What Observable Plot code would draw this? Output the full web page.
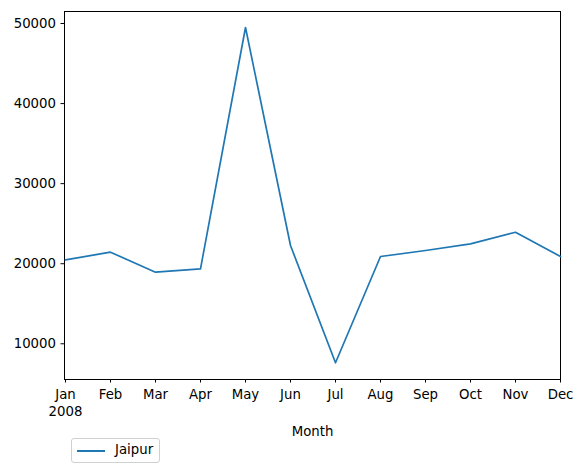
<!DOCTYPE html>
<html>
<head>
<meta charset="utf-8">
<script src="https://cdn.jsdelivr.net/npm/d3@7"></script>
<script src="https://cdn.jsdelivr.net/npm/@observablehq/plot@0.6"></script>
<style>
  body { margin: 0; background: #fff; font-family: "DejaVu Sans", sans-serif; }
  #wrap { position: relative; width: 583px; height: 473px; }
  #legend { position: absolute; left: 71px; top: 438px; width: 87px; height: 23px;
    border: 1px solid #d0d0d0; border-radius: 3px; background: #fff;
    font-size: 13.3px; color: #000; }
  #legend .sw { position: absolute; left: 5px; top: 11px; width: 28px; height: 0; border-top: 2px solid #1f77b4; }
  #legend .lb { position: absolute; left: 43px; top: 3px; }
</style>
</head>
<body>
<div id="wrap">
  <div id="chart"></div>
  <div id="legend"><div class="sw"></div><div class="lb">Jaipur</div></div>
</div>
<script>
const months = ["Jan","Feb","Mar","Apr","May","Jun","Jul","Aug","Sep","Oct","Nov","Dec"];
const jaipur = [20490, 21440, 18940, 19360, 49500, 22270, 7630, 20900, 21650, 22480, 23930, 20900];
const yearLabel = "2008";
const yTicks = [10000, 20000, 30000, 40000, 50000];
const seriesName = "Jaipur";

const data = months.map((m, i) => ({month: m, value: jaipur[i], series: seriesName}));

const chart = Plot.plot({
  width: 583,
  height: 440,
  marginTop: 11,
  marginLeft: 64,
  marginRight: 23,
  marginBottom: 61,
  style: {fontFamily: "DejaVu Sans, sans-serif", fontSize: "13.3px", color: "#000", background: "#fff"},
  x: {type: "point", domain: months, padding: 0},
  y: {domain: [5540, 51500]},
  marks: [
    Plot.frame({stroke: "#000", strokeWidth: 1}),
    Plot.axisY({ticks: yTicks, tickFormat: d => String(d), tickSize: 3.5, tickPadding: 5, label: null, fontSize: 13.3}),
    Plot.axisX({tickSize: 3.5, tickPadding: 3, lineHeight: 1.33, fontSize: 13.3,
      tickFormat: (d, i) => i === 0 ? d + "\n" + yearLabel : d,
      label: "Month", labelAnchor: "center", labelArrow: "none", labelOffset: 56}),
    Plot.line(data, {x: "month", y: "value", stroke: "#1f77b4", strokeWidth: 1.7})
  ]
});
document.getElementById("chart").appendChild(chart);
</script>
</body>
</html>
